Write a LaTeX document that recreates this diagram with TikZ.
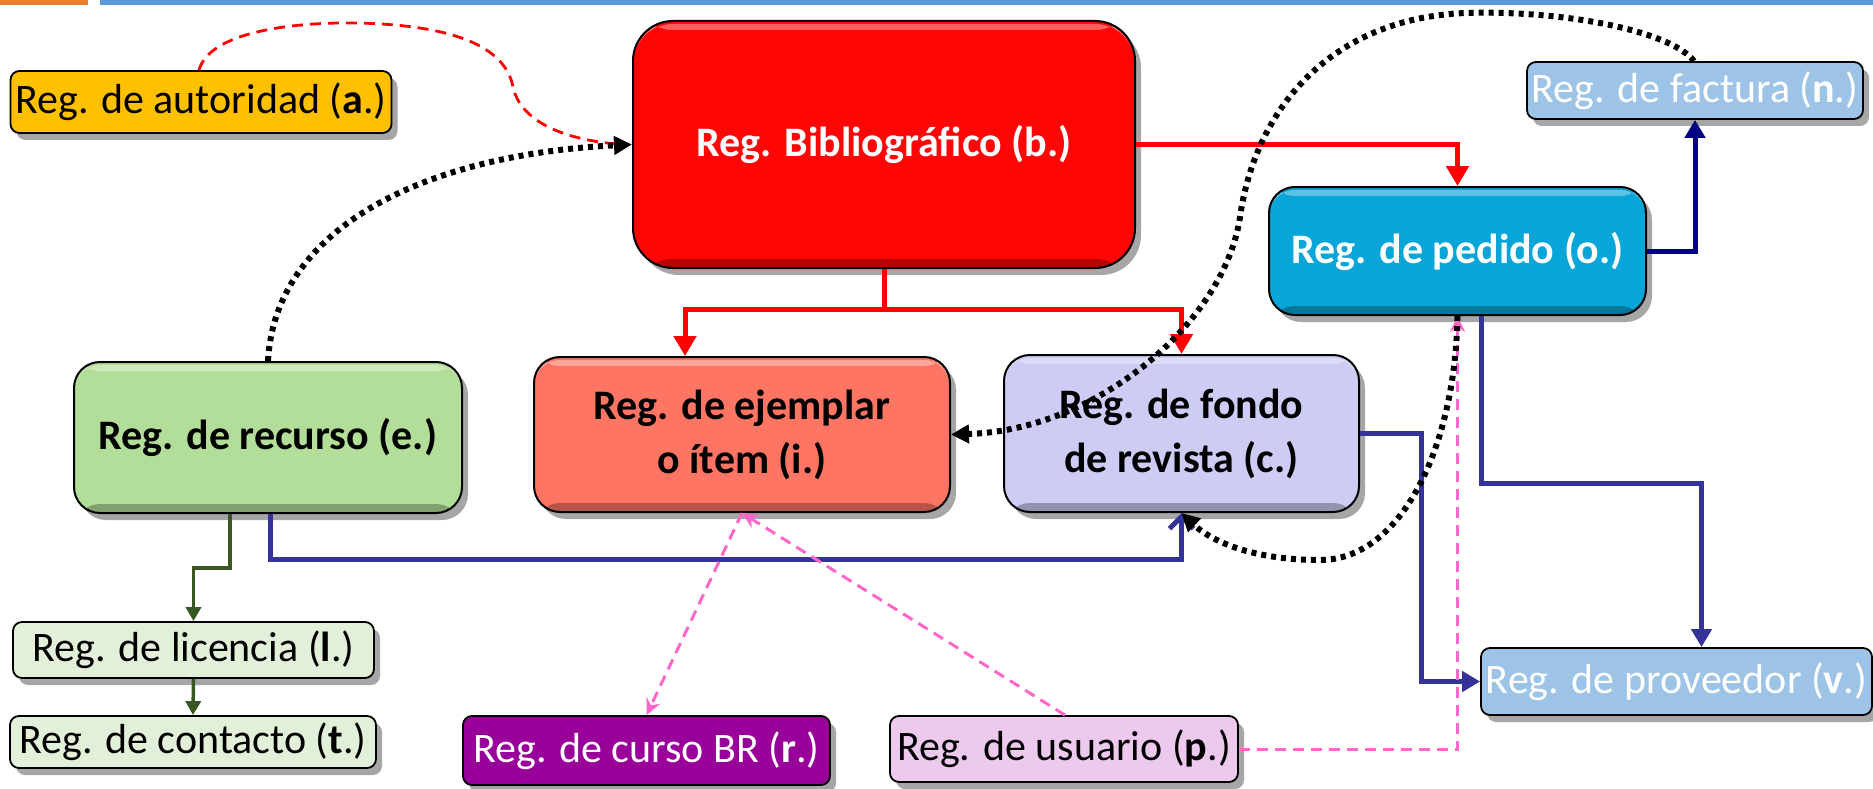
\documentclass[tikz,border=0pt]{standalone}
\usepackage{fontspec}
\setmainfont{Carlito}
\usetikzlibrary{arrows.meta,shadows}
\definecolor{barOrange}{HTML}{ED7D31}
\definecolor{barBlue}{HTML}{5B9BD5}
\definecolor{cA}{HTML}{FFC000}
\definecolor{cB}{HTML}{FF0505}
\definecolor{cO}{HTML}{07A5D8}
\definecolor{cN}{HTML}{9DC3E6}
\definecolor{cE}{HTML}{B3DE99}
\definecolor{cI}{HTML}{FF7563}
\definecolor{cC}{HTML}{CCCCF4}
\definecolor{cL}{HTML}{E2F0D9}
\definecolor{cR}{HTML}{990099}
\definecolor{cP}{HTML}{EEC9EE}
\definecolor{lnRed}{HTML}{FF0000}
\definecolor{lnNavy}{HTML}{000080}
\definecolor{lnBlue}{HTML}{333399}
\definecolor{lnGreen}{HTML}{385723}
\definecolor{lnPink}{HTML}{FF66CC}
\begin{document}
\begin{tikzpicture}[x=1pt,y=-1pt,
  shadowed/.style={drop shadow={shadow xshift=6pt,shadow yshift=-7pt,fill=black,opacity=0.35}},
  bevel/.style={path picture={
      \fill[white,opacity=0.35] ([yshift=-3pt]path picture bounding box.north west) rectangle ([yshift=-9pt]path picture bounding box.north east);
      \fill[black,opacity=0.28] (path picture bounding box.south west) rectangle ([yshift=9pt]path picture bounding box.south east);}},
  bigbox/.style={shadowed,bevel,draw=black,line width=2pt,rounded corners=26pt,align=center,
    inner sep=0pt,font=\fontsize{42}{54}\selectfont\bfseries},
  smallbox/.style={shadowed,draw=black,line width=1.8pt,rounded corners=9pt,align=center,
    inner sep=0pt,font=\fontsize{42}{52}\selectfont},
  redarrow/.style={draw=lnRed,line width=5pt,-{Triangle[length=20pt,width=22pt]}},
  navyarrow/.style={draw=lnNavy,line width=5pt,-{Triangle[length=18pt,width=20pt]}},
  bluearrow/.style={draw=lnBlue,line width=5pt,-{Triangle[length=18pt,width=20pt]}},
  barbarrow/.style={draw=lnBlue,line width=5pt,-{Straight Barb[length=12pt,width=24pt]}},
  greenarrow/.style={draw=lnGreen,line width=3.5pt,-{Triangle[length=14pt,width=15pt]}},
  pinkarrow/.style={draw=lnPink,line width=3pt,dash pattern=on 11pt off 7pt,-{Stealth[length=16pt,width=15pt]}},
  dotarrow/.style={draw=black,line width=6pt,dash pattern=on 5pt off 5pt,-{Triangle[length=18pt,width=18pt]}},
  reddash/.style={draw=lnRed,line width=2.8pt,dash pattern=on 11pt off 7pt}
]
\useasboundingbox (0,0) rectangle (1873,789);
\fill[barOrange] (0,0) rectangle (88,5);
\fill[barBlue] (100,0) rectangle (1873,5);

% nodes
\node[smallbox,fill=cA,minimum width=381pt,minimum height=62pt] (a) at (201,102) {Reg. de autoridad (\textbf{a}.)};
\node[bigbox,fill=cB,text=white,rounded corners=40pt,minimum width=502pt,minimum height=247pt] (b) at (884,144.5) {Reg. Bibliográfico (b.)};
\node[bigbox,fill=cO,text=white,minimum width=377pt,minimum height=128pt] (o) at (1457.5,251) {Reg. de pedido (o.)};
\node[smallbox,fill=cN,text=white,minimum width=336pt,minimum height=57pt] (n) at (1695,90.5) {Reg. de factura (\textbf{n}.)};
\node[bigbox,fill=cE,minimum width=388pt,minimum height=151pt] (e) at (268,437.5) {Reg. de recurso (e.)};
\node[bigbox,fill=cI,minimum width=416pt,minimum height=155pt] (i) at (742,434.5) {Reg. de ejemplar\\o ítem (i.)};
\node[bigbox,fill=cC,minimum width=355pt,minimum height=157pt] (c) at (1181.5,433.5) {Reg. de fondo\\de revista (c.)};
\node[smallbox,fill=cL,minimum width=361pt,minimum height=56pt] (l) at (193.5,650) {Reg. de licencia (\textbf{l}.)};
\node[smallbox,fill=cL,minimum width=366pt,minimum height=52pt] (t) at (193,742) {Reg. de contacto (\textbf{t}.)};
\node[smallbox,fill=cR,text=white,minimum width=367pt,minimum height=69pt] (r) at (646.5,750.5) {Reg. de curso BR (\textbf{r}.)};
\node[smallbox,fill=cP,minimum width=348pt,minimum height=66pt] (p) at (1064,749) {Reg. de usuario (\textbf{p}.)};
\node[smallbox,fill=cN,text=white,minimum width=391pt,minimum height=67pt] (v) at (1676.5,681.5) {Reg. de proveedor (\textbf{v}.)};

% connectors
\draw[reddash] ([xshift=-2pt]a.north) .. controls (210,30) and (300,22) .. (357,23)
  .. controls (450,25) and (505,45) .. (513,87) .. controls (522,128) and (580,142) .. ([xshift=-8pt]b.west);
\draw[dotarrow] (e.north) .. controls (275,230) and (420,155) .. (b.west);

\draw[redarrow] (b.east) -| (o.north);
\draw[redarrow] (b.south) -- ++(0,40) -| ([xshift=-57pt]i.north);
\draw[redarrow] (b.south) -- ++(0,40) -| (c.north);

\draw[navyarrow] (o.east) -| (n.south);
\draw[bluearrow] ([xshift=24pt]o.south) -- ++(0,167) -| ([xshift=25pt]v.north);
\draw[bluearrow] (c.east) -- ++(61,0) |- (v.west);
\draw[barbarrow] ([xshift=2pt]e.south) -- ++(0,45) -| (c.south);

\draw[greenarrow] ([xshift=-38pt]e.south) -- ++(0,54) -| (l.north);
\draw[greenarrow] (l.south) -- (t.north);

\draw[pinkarrow] (i.south) -- (r.north);
\draw[pinkarrow] ([xshift=1pt]p.north) -- (i.south);
\draw[pinkarrow] (p.east) -| (o.south);

\draw[dotarrow] (o.south) .. controls (1455,450) and (1400,560) .. (1320,560)
  .. controls (1250,560) and (1210,540) .. (c.south);
\draw[dotarrow] ([xshift=-1pt]n.north) .. controls (1670,30) and (1560,10) .. (1466,13)
  .. controls (1330,18) and (1255,110) .. (1240,217)
  .. controls (1225,320) and (1100,430) .. (i.east);
\end{tikzpicture}
\end{document}
